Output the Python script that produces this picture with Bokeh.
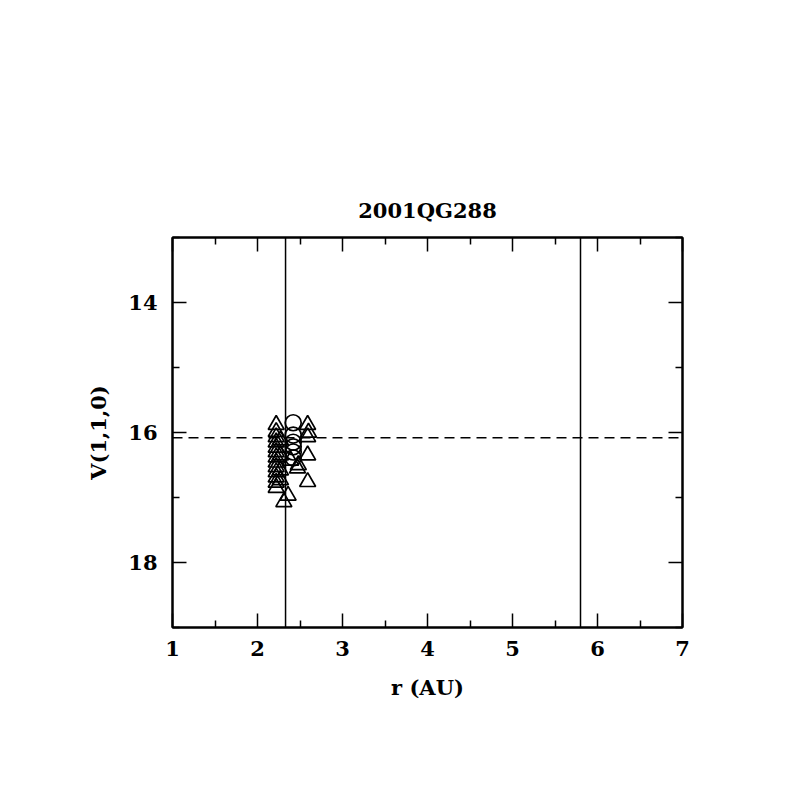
from bokeh.plotting import figure
from bokeh.models import FixedTicker, LinearAxis, Span, Range1d
from bokeh.embed import file_html
from bokeh.resources import INLINE

# Data
title_text = "2001QG288"
x_label = "r (AU)"
y_label = "V(1,1,0)"

tri_r = [2.22, 2.22, 2.22, 2.22, 2.22, 2.22, 2.22, 2.22, 2.22, 2.22, 2.22, 2.22, 2.22,
         2.27, 2.27, 2.27, 2.27, 2.31, 2.36, 2.39,
         2.59, 2.60, 2.59, 2.59, 2.48, 2.47, 2.59]
tri_v = [15.88, 15.99, 16.07, 16.15, 16.23, 16.30, 16.38, 16.46, 16.53, 16.61, 16.69, 16.77, 16.85,
         16.12, 16.35, 16.58, 16.73, 17.07, 16.97, 16.43,
         15.88, 16.00, 16.07, 16.35, 16.50, 16.55, 16.76]
circ_r = [2.42, 2.42, 2.42, 2.42, 2.42, 2.42]
circ_v = [15.85, 16.04, 16.15, 16.22, 16.30, 16.39]

vlines = [2.33, 5.8]
hline = 16.08

x_ticks = [1, 2, 3, 4, 5, 6, 7]
x_minor = [1.5, 2.5, 3.5, 4.5, 5.5, 6.5]
y_ticks = [14, 16, 18]
y_minor = [13, 15, 17, 19]

FONT = "DejaVu Serif"
FS = "21px"

p = figure(width=790, height=790, output_backend="svg", toolbar_location=None,
           x_range=Range1d(1, 7), y_range=Range1d(19, 13),
           min_border_left=172, min_border_right=108,
           min_border_top=237, min_border_bottom=163,
           title=title_text)

p.title.align = "center"
p.title.text_font = FONT
p.title.text_font_size = FS
p.title.text_font_style = "bold"
p.title.text_color = "black"
p.title.standoff = 29

p.grid.visible = False
p.outline_line_color = "black"
p.outline_line_width = 2
p.background_fill_color = "white"
p.border_fill_color = "white"

def style_axis(ax):
    ax.axis_line_color = "black"
    ax.axis_line_width = 2
    ax.major_tick_line_color = "black"
    ax.major_tick_line_width = 1.5
    ax.minor_tick_line_color = "black"
    ax.minor_tick_line_width = 1.5
    ax.major_tick_in = 14
    ax.major_tick_out = 0
    ax.minor_tick_in = 7
    ax.minor_tick_out = 0
    ax.major_label_text_font = FONT
    ax.major_label_text_font_size = FS
    ax.major_label_text_font_style = "bold"
    ax.major_label_text_color = "black"
    ax.axis_label_text_font = FONT
    ax.axis_label_text_font_size = FS
    ax.axis_label_text_font_style = "bold"
    ax.axis_label_text_color = "black"

xt = FixedTicker(ticks=x_ticks, minor_ticks=x_minor)
yt = FixedTicker(ticks=y_ticks, minor_ticks=y_minor)

p.xaxis.ticker = xt
p.yaxis.ticker = yt
style_axis(p.xaxis[0])
style_axis(p.yaxis[0])
p.xaxis.axis_label = x_label
p.yaxis.axis_label = y_label
p.xaxis.major_label_standoff = 13
p.yaxis.major_label_standoff = 15
p.xaxis.axis_label_standoff = 16
p.yaxis.axis_label_standoff = 14

top = LinearAxis(ticker=FixedTicker(ticks=x_ticks, minor_ticks=x_minor))
style_axis(top)
top.major_label_overrides = {t: "" for t in x_ticks}
p.add_layout(top, "above")
right = LinearAxis(ticker=FixedTicker(ticks=y_ticks, minor_ticks=y_minor))
style_axis(right)
right.major_label_overrides = {t: "" for t in y_ticks}
p.add_layout(right, "right")

for xv in vlines:
    p.add_layout(Span(location=xv, dimension="height", line_color="black", line_width=1.5))
p.add_layout(Span(location=hline, dimension="width", line_color="black",
                  line_width=1.5, line_dash="10 6"))

p.scatter(tri_r, tri_v, marker="triangle", size=16, fill_color=None,
          line_color="black", line_width=1.7)
p.scatter(circ_r, circ_v, marker="circle", size=16, fill_color=None,
          line_color="black", line_width=1.7)

open("out.html", "w").write(file_html(p, INLINE))
